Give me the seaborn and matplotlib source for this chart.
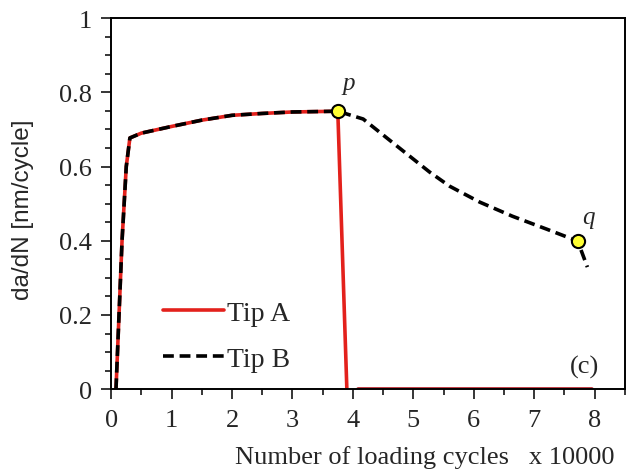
import matplotlib
matplotlib.use("Agg")
import matplotlib.pyplot as plt
from matplotlib.ticker import MultipleLocator
import numpy as np
import pandas as pd
import seaborn as sns

# crack growth rate vs loading cycles (x 10000)
tip_a_x = [0.08, 0.18, 0.25, 0.31, 0.5, 1.0, 1.5, 2.0, 2.5, 3.0, 3.75, 3.90]
tip_a_y = [0.0, 0.40, 0.60, 0.677, 0.690, 0.708, 0.725, 0.738, 0.743, 0.747, 0.749, 0.0]
tip_a_zero_x = [4.08, 7.95]
tip_a_zero_y = [0.0, 0.0]

tip_b_x = [0.08, 0.18, 0.25, 0.31, 0.5, 1.0, 1.5, 2.0, 2.5, 3.0, 3.75,
           4.17, 4.73, 5.27, 5.60, 6.10, 6.64, 7.21, 7.72, 7.88]
tip_b_y = [0.0, 0.40, 0.60, 0.677, 0.690, 0.708, 0.725, 0.738, 0.743, 0.747, 0.749,
           0.728, 0.655, 0.585, 0.547, 0.504, 0.466, 0.431, 0.399, 0.329]

mark_x = [3.75, 7.72]
mark_y = [0.749, 0.399]
mark_lbl = ["p", "q"]

sns.set_style("ticks")
plt.rcParams["font.family"] = ["Liberation Serif", "DejaVu Serif"]

fig = plt.figure(figsize=(6.28, 4.77), dpi=100)
ax = fig.add_axes([0.177, 0.182, 0.818, 0.778])

red = "#e3211c"
sns.lineplot(x=tip_a_x, y=tip_a_y, ax=ax, color=red, lw=2.6, sort=False, label="Tip A")
sns.lineplot(x=tip_a_zero_x, y=tip_a_zero_y, ax=ax, color="#b0141c", lw=2.6, sort=False)
sns.lineplot(x=tip_b_x, y=tip_b_y, ax=ax, color="black", lw=2.6, sort=False, label="Tip B")
ax.lines[-1].set_linestyle((0, (3.0, 1.6)))

sns.scatterplot(x=mark_x, y=mark_y, ax=ax, s=90, color="#ffff33",
                edgecolor="black", linewidth=1.5, zorder=5)
ax.text(3.93, 0.825, mark_lbl[0], fontsize=18, style="italic", ha="center", va="center")
ax.text(7.90, 0.464, mark_lbl[1], fontsize=18, style="italic", ha="center", va="center")
ax.text(7.84, 0.062, "(c)", fontsize=19, ha="center", va="center")

ax.set_xlim(0, 8.5)
ax.set_ylim(0, 1)
ax.set_xticks(range(0, 9))
ax.set_yticks([0, 0.2, 0.4, 0.6, 0.8, 1.0])
ax.set_yticklabels(["0", "0.2", "0.4", "0.6", "0.8", "1"])
ax.xaxis.set_minor_locator(MultipleLocator(0.5))
ax.yaxis.set_minor_locator(MultipleLocator(0.05))
ax.tick_params(which="major", direction="out", length=7, width=1.3, labelsize=19, pad=7)
ax.tick_params(which="minor", direction="out", length=4, width=1.3)
ax.tick_params(top=False, right=False, which="both")
for s in ax.spines.values():
    s.set_linewidth(1.4)
    s.set_color("black")

ax.set_xlabel("Number of loading cycles   x 10000", fontsize=19)
ax.xaxis.set_label_coords(0.61, -0.15)
ax.set_ylabel("da/dN [nm/cycle]", fontsize=17.5, family=["Liberation Sans", "DejaVu Sans"])
ax.yaxis.set_label_coords(-0.15, 0.485)

leg = ax.legend(loc="upper left", bbox_to_anchor=(0.08, 0.27), frameon=False,
                fontsize=20, handlelength=2.2, handletextpad=0.1, labelspacing=0.75,
                borderaxespad=0)

fig.savefig("out.png", dpi=100)
